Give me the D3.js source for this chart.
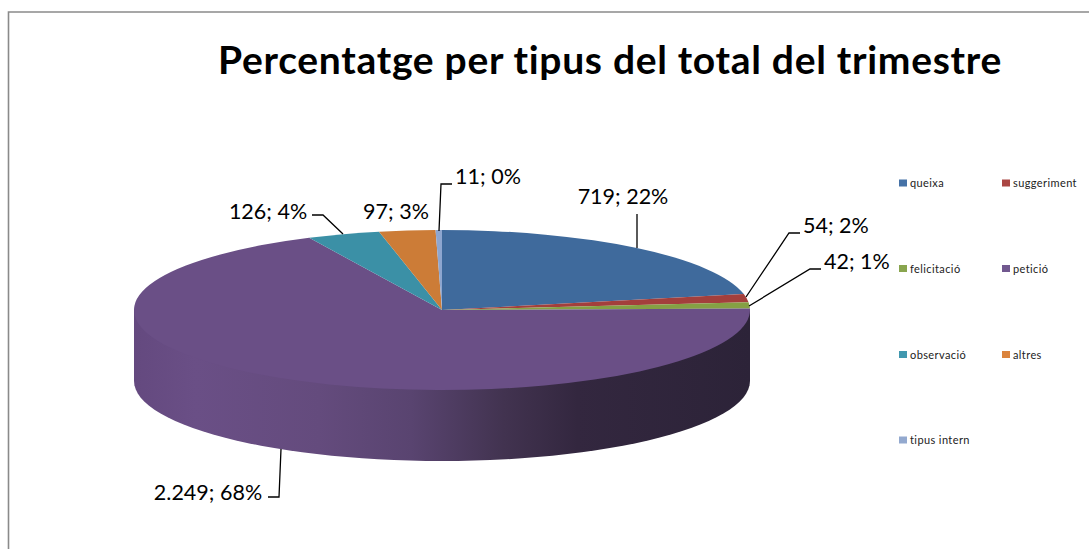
<!DOCTYPE html>
<html><head><meta charset="utf-8">
<script src="https://cdn.jsdelivr.net/npm/d3@7"></script>
<style>html,body{margin:0;padding:0;background:#fff}svg{display:block}text{font-family:Lato,"Open Sans",sans-serif;font-variant-ligatures:none}</style>
</head><body><svg id="c" width="1089" height="549"></svg>
<script>
const categories=["queixa","suggeriment","felicitació","petició","observació","altres","tipus intern"];
const values=[719,54,42,2249,126,97,11];
const dataLabels=["719; 22%","54; 2%","42; 1%","2.249; 68%","126; 4%","97; 3%","11; 0%"];
const colors=["#3f6a9c","#a33f3c","#85a044","#6a4f86","#3b90a6","#cc7c37","#8ea6cf"];
const legendColors=["#4572a7","#aa4643","#89a54e","#71588f","#4198af","#db843d","#93a9cf"];
const titleText="Percentatge per tipus del total del trimestre";

const svg=d3.select("#c");
const cx=442,cy=310,rx=308,ry=80,depth=71;
const line=d3.line();
svg.append("path").attr("d",line([[8.5,549],[8.5,12],[1089,12]])).attr("fill","none").attr("stroke","#8a8a8a").attr("stroke-width",1.6);
svg.append("text").attr("x",610).attr("y",74).attr("text-anchor","middle").attr("font-size",39).attr("letter-spacing",0.7).attr("font-weight",700).attr("fill","#000").text(titleText);

const grad=svg.append("defs").append("linearGradient").attr("id","side").attr("gradientUnits","userSpaceOnUse")
 .attr("x1",cx-rx).attr("x2",cx+rx).attr("y1",0).attr("y2",0);
[[0,"#64497f"],[0.1,"#6a4f86"],[0.3,"#644b7d"],[0.45,"#594470"],[0.6,"#423350"],[0.72,"#33273f"],[1,"#2c2338"]]
 .forEach(s=>grad.append("stop").attr("offset",s[0]).attr("stop-color",s[1]));

const pie=d3.pie().sort(null).value(d=>d)(values);
const arc=d3.arc().innerRadius(0).outerRadius(rx);
const sideX=d3.scaleLinear().domain([-1,1]).range([cx-rx,cx+rx]);
const pts=d3.range(0,181,3).map(a=>{const t=a*Math.PI/180;return [sideX(Math.cos(t)),cy+depth+ry*Math.sin(t)];});
const sidePath=`M${cx+rx},${cy}`+line(pts).replace("M","L")+`L${cx-rx},${cy}Z`;
svg.append("path").attr("d",sidePath).attr("fill","url(#side)");
const topFace=svg.append("g").attr("transform",`translate(${cx},${cy}) scale(1,${ry/rx})`);
topFace.selectAll("path").data(pie).join("path").attr("d",arc).attr("fill",(d,i)=>colors[i]);

const labelLines=[
 [[637,248],[637,214]],
 [[746,297],[789,233],[800,233]],
 [[749,306],[810,269],[821,269]],
 [[281,449],[279,497],[268,497]],
 [[343,234],[323,215],[312,215]],
 [[439,231],[441,184],[452,184]]
];
const labelPos=[[623,204],[803,233],[824,269],[208,500],[268,219],[396,219],[488,184]];
svg.append("g").selectAll("path").data(labelLines).join("path")
 .attr("d",d=>line(d)).attr("fill","none").attr("stroke","#000").attr("stroke-width",1.3);
svg.append("g").selectAll("text").data(dataLabels).join("text")
 .attr("x",(d,i)=>labelPos[i][0]).attr("y",(d,i)=>labelPos[i][1])
 .attr("text-anchor",(d,i)=>i==1||i==2?"start":"middle").attr("font-size",21.5).attr("fill","#000").text(d=>d);

const legendPos=[[899,183],[1002,183],[899,268.5],[1002,268.5],[899,354.5],[1002,354.5],[899,440]];
const lg=svg.append("g").selectAll("g").data(categories).join("g").attr("transform",(d,i)=>`translate(${legendPos[i][0]},${legendPos[i][1]})`);
lg.append("rect").attr("width",8).attr("height",7).attr("y",-3.5).attr("fill",(d,i)=>legendColors[i]);
lg.append("text").attr("x",11).attr("y",4).attr("font-size",11).attr("letter-spacing",0.4).attr("fill","#222").text(d=>d);
</script></body></html>
